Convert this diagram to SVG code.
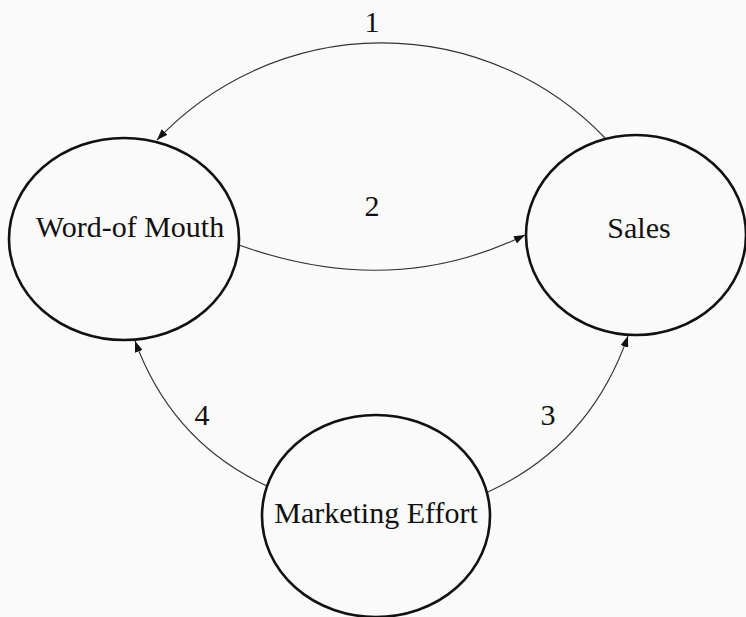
<svg xmlns="http://www.w3.org/2000/svg" width="746" height="617" viewBox="0 0 746 617">
<style>
.node{fill:none;stroke:#111;stroke-width:2.6}
.lbl{font-family:"Liberation Serif","Times New Roman","DejaVu Serif",serif;font-size:30px;fill:#111;text-anchor:middle}
.edge{fill:none;stroke:#333;stroke-width:1.1}
</style>
<defs>
<marker id="ah" markerUnits="userSpaceOnUse" markerWidth="12" markerHeight="8" refX="11" refY="4" orient="auto">
<path d="M0,0 L11,4 L0,8 z" fill="#111"/>
</marker>
</defs>
<rect width="746" height="617" fill="#fafafa"/>
<g id="connectors">
<path class="edge" d="M605,138 A309,309 0 0 0 157,140" marker-end="url(#ah)"/>
<path class="edge" d="M239,245 Q392,300 525,235" marker-end="url(#ah)"/>
<path class="edge" d="M488,492 Q590,445 628,336" marker-end="url(#ah)"/>
<path class="edge" d="M267,486 Q172,442 135,341" marker-end="url(#ah)"/>
<text class="lbl" x="372" y="32">1</text>
<text class="lbl" x="372" y="216">2</text>
<text class="lbl" x="548" y="425">3</text>
<text class="lbl" x="202" y="425">4</text>
</g>
<g id="word-of-mouth">
<ellipse class="node" cx="124" cy="239" rx="115" ry="101"/>
<text class="lbl" x="130" y="237">Word-of Mouth</text>
</g>
<g id="sales">
<ellipse class="node" cx="636" cy="235" rx="110" ry="100"/>
<text class="lbl" x="639" y="238">Sales</text>
</g>
<g id="marketing-effort">
<ellipse class="node" cx="376" cy="516" rx="114" ry="101"/>
<text class="lbl" x="376" y="523">Marketing Effort</text>
</g>
</svg>
